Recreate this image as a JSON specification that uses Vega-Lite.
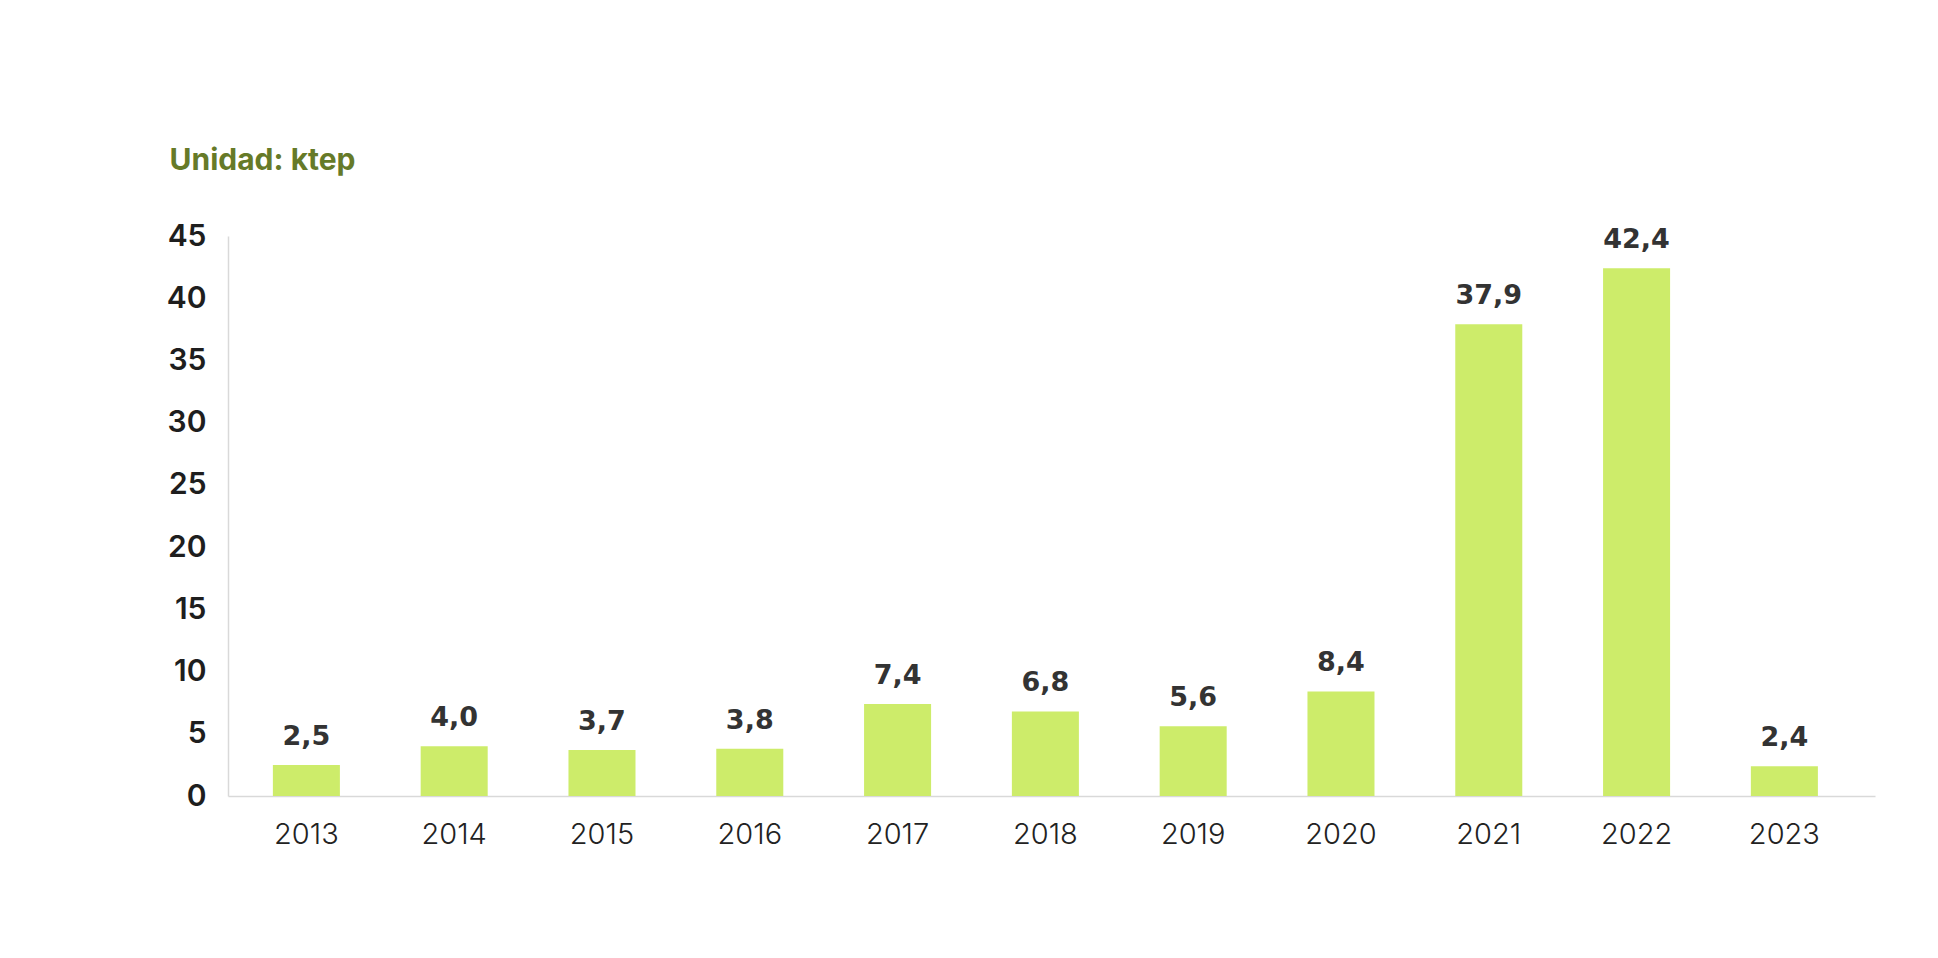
{
  "$schema": "https://vega.github.io/schema/vega-lite/v6.json",
  "width": 1647,
  "height": 560,
  "autosize": {"type": "none"},
  "padding": {"left": 228, "top": 236, "right": 63, "bottom": 162},
  "background": "white",
  "config": {
    "view": {"stroke": null},
    "locale": {"number": {"decimal": ",", "thousands": ".", "grouping": [3], "currency": ["", " €"]}}
  },
  "data": {
    "values": [
      {"year": "2013", "value": 2.5},
      {"year": "2014", "value": 4.0},
      {"year": "2015", "value": 3.7},
      {"year": "2016", "value": 3.8},
      {"year": "2017", "value": 7.4},
      {"year": "2018", "value": 6.8},
      {"year": "2019", "value": 5.6},
      {"year": "2020", "value": 8.4},
      {"year": "2021", "value": 37.9},
      {"year": "2022", "value": 42.4},
      {"year": "2023", "value": 2.4}
    ]
  },
  "encoding": {
    "x": {
      "field": "year", "type": "ordinal",
      "scale": {"paddingInner": 0.5465, "paddingOuter": 0.345, "align": 0.44},
      "axis": {
        "title": null, "labelAngle": 0, "domainColor": "#d9d9d9", "domainWidth": 1.5,
        "ticks": false, "labelPadding": 24, "labelFont": "Inter", "labelFontWeight": 300,
        "labelFontSize": 29, "labelColor": "#222222"
      }
    },
    "y": {
      "field": "value", "type": "quantitative",
      "scale": {"domain": [0, 45], "nice": false},
      "axis": {
        "values": [0, 5, 10, 15, 20, 25, 30, 35, 40, 45],
        "grid": false, "ticks": false, "domainColor": "#d9d9d9", "domainWidth": 1.5,
        "labelPadding": 22, "labelFont": "Inter", "labelFontWeight": 600,
        "labelFontSize": 30, "labelColor": "#1e1e1e", "format": "d",
        "title": "Unidad: ktep", "titleAngle": 0, "titleX": -59, "titleY": -67,
        "titleAlign": "left", "titleBaseline": "alphabetic", "titleFont": "Inter",
        "titleFontSize": 30, "titleFontWeight": 700, "titleColor": "#667a28"
      }
    }
  },
  "layer": [
    {"mark": {"type": "bar", "color": "#cdec6a"}},
    {
      "mark": {"type": "text", "baseline": "alphabetic", "dy": -20, "font": "DejaVu Sans", "fontSize": 27, "fontWeight": "bold", "color": "#333333"},
      "encoding": {"text": {"field": "value", "type": "quantitative", "format": ".1f"}}
    }
  ]
}
